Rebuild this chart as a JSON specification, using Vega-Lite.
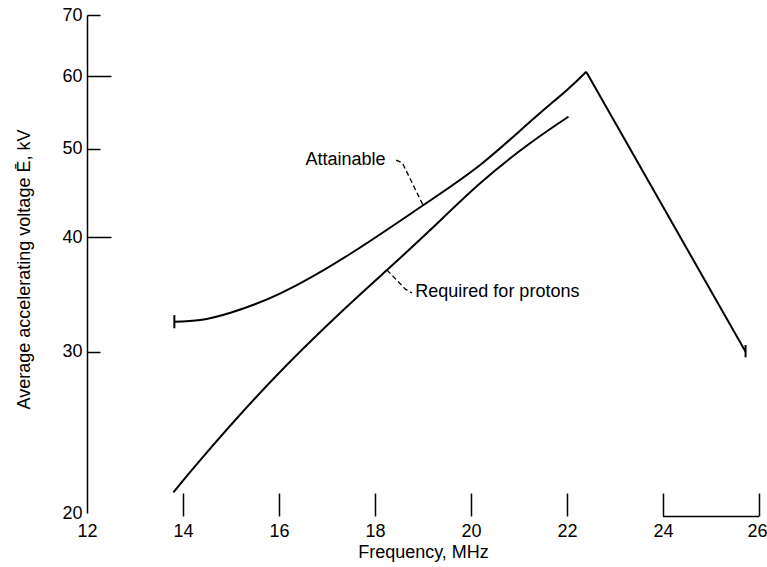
{
  "$schema": "https://vega.github.io/schema/vega-lite/v6.json",
  "width": 672,
  "height": 498,
  "autosize": {"type": "none"},
  "padding": {"left": 87, "top": 15, "right": 8, "bottom": 54},
  "background": "white",
  "config": {
    "view": {"stroke": null},
    "font": "Liberation Sans, Arial, sans-serif"
  },
  "datasets": {
    "curves": [
      {"s": "A", "f": 13.82, "v": 32.36},
      {"s": "A", "f": 14.36, "v": 32.5},
      {"s": "A", "f": 14.99, "v": 33.1},
      {"s": "A", "f": 16.03, "v": 34.75},
      {"s": "A", "f": 17.48, "v": 38.37},
      {"s": "A", "f": 19.01, "v": 43.4},
      {"s": "A", "f": 20.19, "v": 48.0},
      {"s": "A", "f": 21.23, "v": 53.5},
      {"s": "A", "f": 22.0, "v": 57.97},
      {"s": "A", "f": 22.4, "v": 60.69},
      {"s": "D", "f": 22.4, "v": 60.69},
      {"s": "D", "f": 25.72, "v": 30.0},
      {"s": "R", "f": 13.8, "v": 21.06},
      {"s": "R", "f": 14.36, "v": 22.85},
      {"s": "R", "f": 15.82, "v": 27.81},
      {"s": "R", "f": 17.34, "v": 33.33},
      {"s": "R", "f": 18.25, "v": 36.86},
      {"s": "R", "f": 19.15, "v": 40.75},
      {"s": "R", "f": 20.19, "v": 45.84},
      {"s": "R", "f": 21.23, "v": 50.7},
      {"s": "R", "f": 22.03, "v": 54.2}
    ],
    "caps": [
      {"f": 13.82, "v": 32.9, "v2": 31.83},
      {"f": 25.72, "v": 30.52, "v2": 29.59}
    ],
    "leaders": [
      {"g": "a", "o": 1, "f": 18.44, "v": 48.6},
      {"g": "a", "o": 2, "f": 18.57, "v": 48.25},
      {"g": "a", "o": 3, "f": 19.0, "v": 43.4},
      {"g": "r", "o": 1, "f": 18.25, "v": 36.86},
      {"g": "r", "o": 2, "f": 18.63, "v": 35.13},
      {"g": "r", "o": 3, "f": 18.77, "v": 34.78}
    ],
    "labels": [
      {"f": 16.55, "v": 48.6, "t": "Attainable"},
      {"f": 18.84, "v": 34.85, "t": "Required for protons"}
    ],
    "bracket": [
      {"f": 24, "f2": 26, "v": 19.82}
    ]
  },
  "layer": [
    {
      "data": {"name": "curves"},
      "mark": {"type": "line", "color": "black", "strokeWidth": 2, "interpolate": "natural"},
      "encoding": {
        "x": {
          "field": "f", "type": "quantitative",
          "scale": {"domain": [12, 26], "nice": false, "zero": false},
          "axis": {
            "title": "Frequency, MHz",
            "values": [12, 14, 16, 18, 20, 22, 24, 26],
            "format": "d",
            "grid": false,
            "domain": false,
            "offset": 3,
            "tickSize": -23,
            "tickColor": "black",
            "tickWidth": 1.5,
            "tickOpacity": {"condition": {"test": "datum.value == 12", "value": 0}, "value": 1},
            "labelPadding": 29,
            "labelOffset": {"condition": {"test": "datum.value == 26", "value": -2}, "value": 0},
            "labelFontSize": 18,
            "labelColor": "black",
            "labelFlush": false,
            "labelOverlap": false,
            "titleFontSize": 18,
            "titleFontWeight": "normal",
            "titleColor": "black",
            "titlePadding": 3
          }
        },
        "y": {
          "field": "v", "type": "quantitative",
          "scale": {"type": "log", "domain": [20, 70], "nice": false, "zero": false},
          "axis": {
            "title": "Average accelerating voltage Ē, kV",
            "values": [20, 30, 40, 50, 60, 70],
            "format": "d",
            "grid": false,
            "domain": true,
            "domainColor": "black",
            "domainWidth": 1.5,
            "tickColor": "black",
            "tickWidth": 1.5,
            "tickSize": {"condition": {"test": "datum.value == 40 || datum.value == 60", "value": -24}, "value": -13},
            "tickOpacity": {"condition": {"test": "datum.value == 20", "value": 0}, "value": 1},
            "labelPadding": {"condition": {"test": "datum.value == 40 || datum.value == 60", "value": 29}, "value": 18},
            "labelFontSize": 18,
            "labelColor": "black",
            "labelFlush": false,
            "labelOverlap": false,
            "titleFontSize": 18,
            "titleFontWeight": "normal",
            "titleColor": "black",
            "titleAngle": -90,
            "titleX": -63,
            "titleY": 254,
            "titleAlign": "center",
            "titleBaseline": "middle"
          }
        },
        "detail": {"field": "s"}
      }
    },
    {
      "data": {"name": "caps"},
      "mark": {"type": "rule", "color": "black", "strokeWidth": 2},
      "encoding": {
        "x": {"field": "f", "type": "quantitative"},
        "y": {"field": "v", "type": "quantitative"},
        "y2": {"field": "v2"}
      }
    },
    {
      "data": {"name": "leaders"},
      "mark": {"type": "line", "color": "black", "strokeWidth": 1.3, "strokeDash": [5, 3]},
      "encoding": {
        "x": {"field": "f", "type": "quantitative"},
        "y": {"field": "v", "type": "quantitative"},
        "detail": {"field": "g"},
        "order": {"field": "o"}
      }
    },
    {
      "data": {"name": "labels"},
      "mark": {"type": "text", "align": "left", "baseline": "middle", "fontSize": 18, "color": "black"},
      "encoding": {
        "x": {"field": "f", "type": "quantitative"},
        "y": {"field": "v", "type": "quantitative"},
        "text": {"field": "t"}
      }
    },
    {
      "data": {"name": "bracket"},
      "mark": {"type": "rule", "color": "black", "strokeWidth": 1.5},
      "encoding": {
        "x": {"field": "f", "type": "quantitative"},
        "x2": {"field": "f2"},
        "y": {"field": "v", "type": "quantitative"}
      }
    }
  ]
}
